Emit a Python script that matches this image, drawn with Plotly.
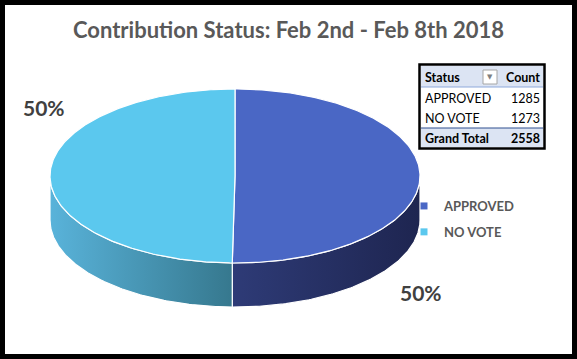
import numpy as np
import plotly.graph_objects as go

# ---------------- data ----------------
title_text = "Contribution Status: Feb 2nd - Feb 8th 2018"
labels = ["APPROVED", "NO VOTE"]
counts = [1285, 1273]
table_header = ["Status", "Count"]
total_label = "Grand Total"

# ---------------- style ----------------
top_colors = ["#4A67C5", "#5BC8EE"]
side_scales = [
    [[0, "#2E3B77"], [1, "#1E2550"]],
    [[0, "#59B3DA"], [1, "#36788E"]],
]
W, H = 577, 359
CX, CY, RX, RY, DEPTH = 235, 176, 185, 87, 44
FONT = "Lato"

fig = go.Figure()

total = sum(counts)
fracs = [c / total for c in counts]
starts = np.cumsum([0] + fracs[:-1]) * 360.0
ends = np.cumsum(fracs) * 360.0


def ell(theta_deg, dy=0.0):
    t = np.radians(theta_deg)
    return CX + RX * np.sin(t), CY - RY * np.cos(t) + dy


# side walls (visible front half: 90..270 degrees clockwise from top)
for i, lab in enumerate(labels):
    a = max(starts[i], 90.0)
    b = min(ends[i], 270.0)
    if b <= a:
        continue
    th = np.linspace(a, b, 120)
    xt, yt = ell(th)
    xb, yb = ell(th[::-1], DEPTH)
    xs = np.concatenate([xt, xb, xt[:1]])
    ys = np.concatenate([yt, yb, yt[:1]])
    fig.add_trace(go.Scatter(
        x=xs, y=ys, mode="lines", fill="toself",
        fillgradient=dict(type="horizontal", colorscale=side_scales[i]),
        line=dict(color="white", width=1.2),
        showlegend=False, hoverinfo="skip"))

# top faces
for i, lab in enumerate(labels):
    th = np.linspace(starts[i], ends[i], 240)
    xa, ya = ell(th)
    xs = np.concatenate([[CX], xa, [CX]])
    ys = np.concatenate([[CY], ya, [CY]])
    fig.add_trace(go.Scatter(
        x=xs, y=ys, mode="lines", fill="toself",
        fillcolor=top_colors[i],
        line=dict(color="white", width=1.2),
        name=lab, showlegend=False,
        hovertemplate=f"{lab}: {counts[i]}<extra></extra>"))

# legend entries
for i, lab in enumerate(labels):
    fig.add_trace(go.Scatter(
        x=[None], y=[None], mode="markers", name=lab,
        legendgroup=lab,
        marker=dict(symbol="square", size=7, color=top_colors[i])))

# percent labels
pct = [f"{round(f * 100)}%" for f in fracs]
label_pos = {"APPROVED": (421, 292), "NO VOTE": (44, 107)}
for i, lab in enumerate(labels):
    x0, y0 = label_pos[lab]
    fig.add_annotation(x=x0, y=y0, xref="x", yref="y", text=pct[i],
                       showarrow=False,
                       font=dict(family=FONT, size=21, color="#404040", weight="bold"))

# ---------------- pivot table ----------------
TX0, TX1 = 421, 543
row_edges = [66, 87, 108, 128, 147]
TEXT_L, TEXT_R = 423, 542
TBL_BG = "#DCE4F3"

shapes = []
table_rows = [
    (f"<b>{table_header[0]}</b>", f"<b>{table_header[1]}</b>", TBL_BG),
] + [
    (lab, str(c), "white") for lab, c in zip(labels, counts)
] + [
    (f"<b>{total_label}</b>", f"<b>{total}</b>", TBL_BG),
]
for r, (left_txt, right_txt, bg) in enumerate(table_rows):
    y0, y1 = row_edges[r], row_edges[r + 1]
    shapes.append(dict(type="rect", xref="x", yref="y", x0=TX0, x1=TX1, y0=y0, y1=y1,
                       fillcolor=bg, line=dict(width=0), layer="above"))
    ym = (y0 + y1) / 2 + 0.5
    fig.add_annotation(x=TEXT_L, y=ym, xref="x", yref="y", text=left_txt,
                       xanchor="left", yanchor="middle", showarrow=False,
                       font=dict(family=FONT, size=12.5, color="black"))
    fig.add_annotation(x=TEXT_R, y=ym, xref="x", yref="y", text=right_txt,
                       xanchor="right", yanchor="middle", showarrow=False,
                       font=dict(family=FONT, size=12.5, color="black"))

shapes += [
    # header bottom line
    dict(type="line", xref="x", yref="y", x0=TX0, x1=TX1, y0=row_edges[1], y1=row_edges[1],
         line=dict(color="#8EA9DB", width=1)),
    # grand total top line
    dict(type="line", xref="x", yref="y", x0=TX0, x1=TX1, y0=row_edges[3], y1=row_edges[3],
         line=dict(color="#2F4F8F", width=1)),
    # dropdown button
    dict(type="rect", xref="x", yref="y", x0=483, x1=497, y0=70, y1=84,
         fillcolor="white", line=dict(color="#A6A6A6", width=1)),
    # table border
    dict(type="rect", xref="x", yref="y", x0=419.5, x1=544.5, y0=64.5, y1=148.5,
         line=dict(color="black", width=2.5)),
    # outer black frame
    dict(type="rect", xref="paper", yref="paper", x0=0, x1=1, y0=0, y1=1,
         line=dict(color="black", width=10)),
]
fig.add_annotation(x=490, y=77, xref="x", yref="y", text="▼", showarrow=False,
                   font=dict(family="DejaVu Sans", size=7, color="#7F7F7F"))

fig.update_layout(
    width=W, height=H,
    margin=dict(l=0, r=0, t=0, b=0),
    paper_bgcolor="white", plot_bgcolor="white",
    title=dict(text=title_text, x=0.5, xanchor="center", y=1 - 30 / H, yanchor="middle",
               font=dict(family=FONT, size=22, color="#595959", weight="bold")),
    xaxis=dict(range=[0, W], visible=False, fixedrange=True),
    yaxis=dict(range=[H, 0], visible=False, fixedrange=True),
    shapes=shapes,
    showlegend=True,
    legend=dict(x=404 / W, y=1 - 191 / H, xanchor="left", yanchor="top",
                bgcolor="rgba(0,0,0,0)", tracegroupgap=6, traceorder="grouped",
                font=dict(family=FONT, size=13, color="#595959", weight="bold")),
)

fig.write_html("out.html", config={"displayModeBar": False},
               post_script="document.body.style.margin='0';document.body.style.padding='0';")
